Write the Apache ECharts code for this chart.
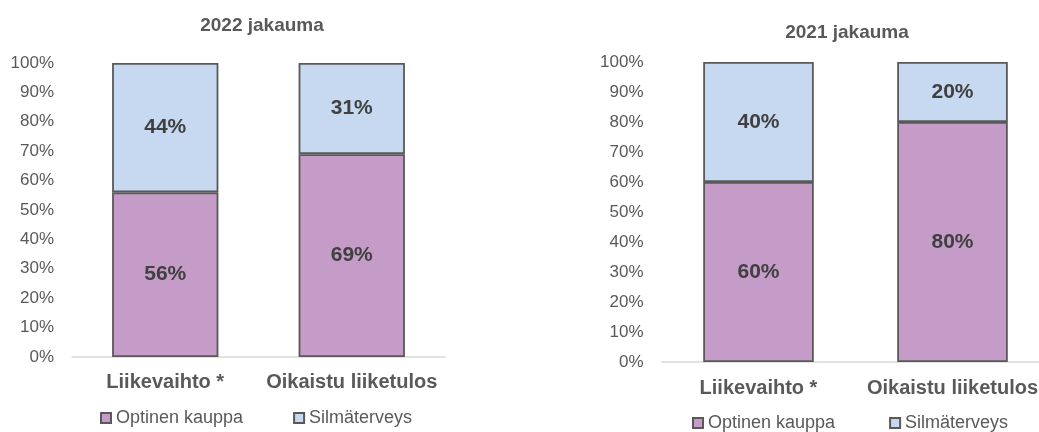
<!DOCTYPE html>
<html>
<head>
<meta charset="utf-8">
<script src="https://cdn.jsdelivr.net/npm/echarts@6/dist/echarts.min.js"></script>
<style>
html,body{margin:0;padding:0;background:#fff;}
#chart{width:1039px;height:432px;}
</style>
</head>
<body>
<div id="chart"></div>
<script>
// jakaumat, prosentteina
var categories = ['Liikevaihto *', 'Oikaistu liiketulos'];
var seriesNames = ['Optinen kauppa', 'Silmäterveys'];
var optinen2022 = [56, 69];
var silma2022 = [44, 31];
var optinen2021 = [60, 80];
var silma2021 = [40, 20];
var titles = ['2022 jakauma', '2021 jakauma'];

var purple = '#c49cc7';
var blue = '#c6d9f0';
var txt = '#595959';
var font = 'Liberation Sans';

function barSeries(name, data, idx, color) {
    return {
        name: name,
        type: 'bar',
        stack: 'g' + idx,
        xAxisIndex: idx,
        yAxisIndex: idx,
        barWidth: '57%',
        data: data,
        itemStyle: {
            color: color,
            borderColor: '#595959',
            borderWidth: 1.8
        },
        label: {
            show: true,
            position: 'inside',
            formatter: '{c}%',
            color: '#404040',
            fontWeight: 'bold',
            fontSize: 21,
            fontFamily: font
        }
    };
}

function xAx(idx, margin) {
    return {
        type: 'category',
        gridIndex: idx,
        data: categories,
        axisLine: {lineStyle: {color: '#d9d9d9', width: 1.5}},
        axisTick: {show: false},
        axisLabel: {
            color: txt,
            fontWeight: 'bold',
            fontSize: 20,
            fontFamily: font,
            margin: margin,
            interval: 0
        }
    };
}

function yAx(idx) {
    return {
        type: 'value',
        gridIndex: idx,
        min: 0,
        max: 100,
        interval: 10,
        axisLine: {show: false},
        axisTick: {show: false},
        splitLine: {show: false},
        axisLabel: {
            formatter: '{value}%',
            color: txt,
            fontSize: 17,
            fontFamily: font,
            margin: 18
        }
    };
}

function legendAt(left, top, gap) {
    return {
        data: seriesNames,
        left: left,
        top: top,
        padding: 0,
        itemWidth: 10,
        itemHeight: 10,
        icon: 'rect',
        itemGap: gap,
        textStyle: {color: txt, fontSize: 18, fontFamily: font}
    };
}

var chart = echarts.init(document.getElementById('chart'));
chart.setOption({
    animation: false,
    title: [
        {text: titles[0], left: 257, top: 11, textAlign: 'center',
         textStyle: {color: txt, fontSize: 19, fontWeight: 'bold', fontFamily: font}},
        {text: titles[1], left: 842, top: 18, textAlign: 'center',
         textStyle: {color: txt, fontSize: 19, fontWeight: 'bold', fontFamily: font}}
    ],
    legend: [
        legendAt(100, 409, 50),
        legendAt(692, 414, 54)
    ],
    grid: [
        {left: 72, top: 63, width: 373, height: 294, outerBoundsMode: 'none'},
        {left: 661.5, top: 62, width: 388, height: 300, outerBoundsMode: 'none'}
    ],
    xAxis: [xAx(0, 15), xAx(1, 16)],
    yAxis: [yAx(0), yAx(1)],
    series: [
        barSeries(seriesNames[0], optinen2022, 0, purple),
        barSeries(seriesNames[1], silma2022, 0, blue),
        barSeries(seriesNames[0], optinen2021, 1, purple),
        barSeries(seriesNames[1], silma2021, 1, blue)
    ]
});
</script>
</body>
</html>
